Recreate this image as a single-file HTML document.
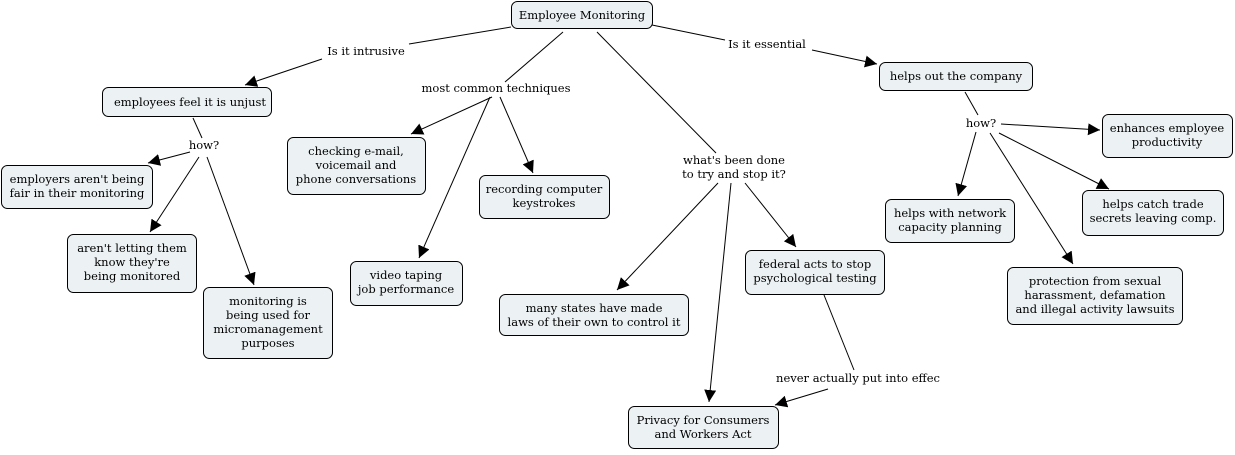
<!DOCTYPE html>
<html><head><meta charset="utf-8"><style>
body{margin:0;background:#fff;width:1235px;height:450px;overflow:hidden}
svg text{font-family:"DejaVu Serif","Liberation Serif",serif;font-size:11.5px;fill:#000}
rect{fill:#ecf2f4;stroke:#000;stroke-width:1}
line{stroke:#000;stroke-width:1}
</style></head><body>
<svg width="1235" height="450" xmlns="http://www.w3.org/2000/svg">
<defs><marker id="a" viewBox="0 0 10 10" refX="10" refY="5" markerWidth="12" markerHeight="12" markerUnits="userSpaceOnUse" orient="auto"><path d="M0,0L10,5L0,10z" fill="#000"/></marker></defs>
<g>
<line x1="511" y1="27" x2="409" y2="44"/>
<line x1="322" y1="59" x2="245" y2="85" marker-end="url(#a)"/>
<line x1="563" y1="32" x2="505" y2="82"/>
<line x1="492" y1="97" x2="411" y2="134" marker-end="url(#a)"/>
<line x1="490" y1="97" x2="419" y2="258" marker-end="url(#a)"/>
<line x1="500" y1="97" x2="533" y2="173" marker-end="url(#a)"/>
<line x1="597" y1="32" x2="716" y2="153"/>
<line x1="718" y1="183" x2="617" y2="290" marker-end="url(#a)"/>
<line x1="731" y1="183" x2="709" y2="402" marker-end="url(#a)"/>
<line x1="745" y1="183" x2="796" y2="247" marker-end="url(#a)"/>
<line x1="652" y1="25" x2="725" y2="40"/>
<line x1="812" y1="50" x2="877" y2="64" marker-end="url(#a)"/>
<line x1="193" y1="118" x2="202" y2="138"/>
<line x1="190" y1="152" x2="148" y2="163" marker-end="url(#a)"/>
<line x1="199" y1="157" x2="150" y2="232" marker-end="url(#a)"/>
<line x1="207" y1="157" x2="254" y2="285" marker-end="url(#a)"/>
<line x1="965" y1="92" x2="978" y2="115"/>
<line x1="1001" y1="124" x2="1100" y2="130" marker-end="url(#a)"/>
<line x1="976" y1="132" x2="958" y2="196" marker-end="url(#a)"/>
<line x1="990" y1="133" x2="1073" y2="264" marker-end="url(#a)"/>
<line x1="999" y1="133" x2="1109" y2="189" marker-end="url(#a)"/>
<line x1="824" y1="295" x2="854" y2="370"/>
<line x1="828" y1="389" x2="775" y2="405" marker-end="url(#a)"/>
</g>
<g>
<rect x="511.5" y="1.5" width="141" height="27" rx="6"/>
<rect x="102.5" y="87.5" width="169" height="29" rx="6"/>
<rect x="1.5" y="165.5" width="151" height="43" rx="6"/>
<rect x="67.5" y="234.5" width="129" height="58" rx="6"/>
<rect x="203.5" y="287.5" width="129" height="71" rx="6"/>
<rect x="287.5" y="137.5" width="138" height="57" rx="6"/>
<rect x="479.5" y="175.5" width="130" height="43" rx="6"/>
<rect x="350.5" y="261.5" width="112" height="44" rx="6"/>
<rect x="499.5" y="294.5" width="189" height="41" rx="6"/>
<rect x="745.5" y="250.5" width="139" height="44" rx="6"/>
<rect x="628.5" y="406.5" width="150" height="42" rx="6"/>
<rect x="879.5" y="62.5" width="153" height="28" rx="6"/>
<rect x="1102.5" y="114.5" width="130" height="43" rx="6"/>
<rect x="885.5" y="199.5" width="129" height="43" rx="6"/>
<rect x="1082.5" y="190.5" width="141" height="45" rx="6"/>
<rect x="1007.5" y="267.5" width="175" height="57" rx="6"/>
</g>
<g text-anchor="middle">
<text x="582" y="19">Employee Monitoring</text>
<text x="190" y="106">employees feel it is unjust</text>
<text x="77" y="183">employers aren't being</text><text x="77" y="197">fair in their monitoring</text>
<text x="132" y="252">aren't letting them</text><text x="132" y="266">know they're</text><text x="132" y="280">being monitored</text>
<text x="268" y="305">monitoring is</text><text x="268" y="319">being used for</text><text x="268" y="333">micromanagement</text><text x="268" y="347">purposes</text>
<text x="356" y="155">checking e-mail,</text><text x="356" y="169">voicemail and</text><text x="356" y="183">phone conversations</text>
<text x="544" y="193">recording computer</text><text x="544" y="207">keystrokes</text>
<text x="406" y="279">video taping</text><text x="406" y="293">job performance</text>
<text x="594" y="312">many states have made</text><text x="594" y="326">laws of their own to control it</text>
<text x="815" y="268">federal acts to stop</text><text x="815" y="282">psychological testing</text>
<text x="703" y="424">Privacy for Consumers</text><text x="703" y="438">and Workers Act</text>
<text x="956" y="80">helps out the company</text>
<text x="1167" y="132">enhances employee</text><text x="1167" y="146">productivity</text>
<text x="950" y="217">helps with network</text><text x="950" y="231">capacity planning</text>
<text x="1153" y="208">helps catch trade</text><text x="1153" y="222">secrets leaving comp.</text>
<text x="1095" y="285">protection from sexual</text><text x="1095" y="299">harassment, defamation</text><text x="1095" y="313">and illegal activity lawsuits</text>
</g>
<g text-anchor="middle">
<text x="366" y="55" style="paint-order:stroke;stroke:#fff;stroke-width:4">Is it intrusive</text>
<text x="496" y="92" style="paint-order:stroke;stroke:#fff;stroke-width:4">most common techniques</text>
<text x="734" y="164" style="paint-order:stroke;stroke:#fff;stroke-width:4">what's been done</text>
<text x="734" y="178" style="paint-order:stroke;stroke:#fff;stroke-width:4">to try and stop it?</text>
<text x="767" y="48" style="paint-order:stroke;stroke:#fff;stroke-width:4">Is it essential</text>
<text x="204" y="149" style="paint-order:stroke;stroke:#fff;stroke-width:4">how?</text>
<text x="981" y="127" style="paint-order:stroke;stroke:#fff;stroke-width:4">how?</text>
<text x="858" y="382" style="paint-order:stroke;stroke:#fff;stroke-width:4">never actually put into effec</text>
</g>
</svg>
</body></html>
